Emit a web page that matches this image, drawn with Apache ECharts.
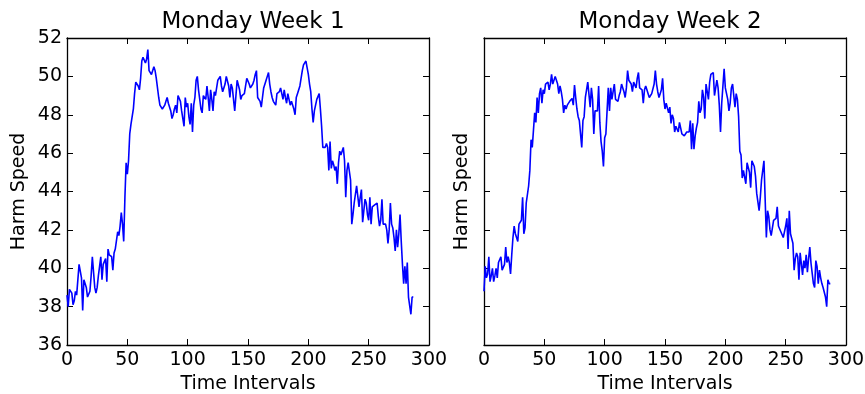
<!DOCTYPE html>
<html>
<head>
<meta charset="utf-8">
<script src="https://cdn.jsdelivr.net/npm/echarts@6/dist/echarts.min.js"></script>
<style>
html,body{margin:0;padding:0;background:#fff;}
#chart{width:865px;height:394px;}
</style>
</head>
<body>
<div id="chart"></div>
<script>
var titles = ["Monday Week 1", "Monday Week 2"];
var xAxisName = "Time Intervals";
var yAxisName = "Harm Speed";
var xTicks = [0, 50, 100, 150, 200, 250, 300];
var yTicks = [36, 38, 40, 42, 44, 46, 48, 50, 52];

var week1 = [
38.6,38.0,38.9,39.0,38.7,38.1,38.3,38.8,38.6,38.7,
40.2,40.1,39.5,37.8,39.4,39.5,39.0,38.5,38.6,38.8,
39.6,40.6,39.8,39.0,38.7,39.0,39.6,40.1,40.6,39.4,
40.2,40.3,40.5,39.3,41.0,40.7,40.8,40.6,39.9,40.8,
41.0,41.0,41.9,41.7,42.2,42.9,42.3,41.4,43.7,45.5,
44.9,45.6,47.0,47.5,47.5,48.3,49.1,49.7,49.6,49.5,
49.3,49.9,50.8,51.0,51.1,50.7,50.9,51.4,50.3,50.2,
50.1,50.2,50.5,50.3,49.9,49.8,48.9,48.5,48.4,48.3,
48.3,48.5,48.7,48.9,48.6,48.6,48.2,47.8,48.0,48.3,
48.5,48.1,49.0,49.1,48.7,48.2,47.8,47.4,48.9,48.4,
48.6,47.9,47.5,48.6,47.1,48.5,48.9,49.8,50.0,49.3,
48.8,48.3,48.1,49.0,48.9,48.8,49.5,48.9,48.2,49.3,
48.8,48.2,49.2,49.0,49.1,49.8,49.9,50.0,49.5,49.2,
49.3,49.6,50.0,50.1,49.5,48.9,49.6,49.4,49.5,48.2,
49.0,49.8,49.7,49.3,48.8,49.0,48.9,49.1,49.5,49.9,
50.0,49.6,49.4,49.4,49.6,49.8,50.1,50.3,48.9,49.0,
48.7,48.4,48.9,49.4,49.5,49.8,50.0,50.2,49.6,49.2,
48.9,48.7,48.6,48.5,49.1,49.2,49.2,49.4,49.5,48.8,
49.3,48.9,48.6,49.1,48.8,48.5,48.7,48.6,48.3,48.0,
48.9,49.1,49.2,49.5,49.6,50.3,50.6,50.7,50.8,50.8,
50.1,49.6,49.2,48.3,47.6,48.2,48.3,48.8,48.9,49.1,
48.3,47.4,46.3,46.2,46.3,46.5,46.3,45.1,46.6,45.2,
45.6,45.4,45.1,45.3,44.4,45.5,46.1,45.9,45.8,46.3,
45.6,43.7,45.1,45.5,45.5,44.6,42.3,42.8,43.4,43.3,
44.3,44.2,43.2,43.7,44.1,42.4,43.0,43.6,43.4,42.8,
42.5,43.7,42.3,43.2,43.3,43.3,43.4,43.4,42.7,42.2,
42.5,43.6,42.3,42.4,42.3,42.0,41.3,42.0,43.4,42.3,
42.1,41.6,40.9,42.0,41.1,41.8,42.8,41.4,40.2,39.2,
40.1,39.2,40.3,38.5,38.5,37.6,38.5,38.5
];

var week2 = [
38.8,40.1,39.5,39.7,40.6,39.3,39.6,40.0,39.3,39.6,
40.0,39.5,40.3,40.4,40.6,39.9,39.9,40.2,41.1,40.3,
40.6,40.3,39.7,40.7,41.6,42.2,41.8,41.9,41.4,42.3,
42.3,42.5,43.7,41.8,42.1,43.4,43.5,44.3,45.1,46.7,
46.3,47.2,48.1,47.6,48.9,48.1,49.1,49.4,48.6,49.3,
49.1,49.6,49.7,49.7,49.3,49.6,50.1,49.6,49.6,50.0,
49.8,49.6,49.1,49.5,49.2,48.8,48.1,48.5,48.3,48.5,
48.6,48.7,48.8,48.85,48.5,49.55,48.9,48.3,47.9,47.7,
47.0,46.3,47.7,47.9,48.9,49.3,49.7,49.6,48.4,49.4,
48.8,47.0,48.2,48.1,48.2,49.5,47.6,46.6,46.1,45.3,
46.8,47.0,47.0,49.4,48.2,49.4,48.8,49.2,49.6,48.8,
48.9,48.7,49.0,49.2,49.6,49.4,49.2,48.9,49.4,50.3,
49.8,49.7,49.6,49.2,49.7,49.6,49.4,49.9,50.2,49.4,
49.4,49.3,48.6,49.3,49.5,49.3,49.1,48.9,49.0,49.1,
49.0,49.6,50.3,49.6,49.2,48.9,49.1,49.3,49.9,48.8,
48.3,48.6,48.5,48.1,48.4,47.55,48.0,47.8,47.1,47.4,
47.3,47.1,47.6,47.3,47.0,47.0,46.9,47.0,47.1,47.2,
47.1,47.7,46.2,47.55,46.2,46.9,47.3,47.6,48.7,48.1,
48.3,49.3,48.9,47.8,49.6,49.2,48.8,49.7,50.1,50.1,
50.2,49.0,49.1,49.8,49.4,48.5,47.1,48.6,48.5,50.4,
49.4,49.5,48.8,48.2,48.6,49.4,49.6,49.7,48.4,49.1,
48.8,47.9,46.1,45.9,44.7,45.1,45.0,44.4,45.5,45.5,
45.0,44.2,45.6,45.5,45.3,44.8,43.9,43.8,43.0,43.7,
44.6,45.1,45.6,43.6,41.6,43.0,42.7,42.0,41.7,41.8,
42.5,42.6,42.6,43.2,42.2,42.2,41.9,41.8,41.6,41.5,
42.2,42.6,41.0,43.0,41.8,41.9,41.3,39.9,40.5,40.8,
40.6,39.4,40.8,40.8,39.65,40.4,40.0,40.7,39.8,40.5,
41.1,40.26,40.2,39.2,39.0,40.4,40.1,39.2,39.9,39.5,
39.2,39.0,38.9,38.5,38.0,39.4,39.2,39.2
];

var FONT = 'DejaVu Sans';
var grids = [
  {left: 67, top: 38, width: 362, height: 307, outerBoundsMode: 'none', containLabel: false},
  {left: 484, top: 38, width: 362, height: 307, outerBoundsMode: 'none', containLabel: false}
];
var xMin = xTicks[0], xMax = xTicks[xTicks.length - 1], xInt = xTicks[1] - xTicks[0];
var yMin = yTicks[0], yMax = yTicks[yTicks.length - 1], yInt = yTicks[1] - yTicks[0];

function toPairs(arr){ return arr.map(function(v, i){ return [i, v]; }); }

var lineAxis = {show: true, onZero: false, lineStyle: {color: '#000', width: 1.3}};
var tickIn = {show: true, inside: true, length: 6, lineStyle: {color: '#000', width: 1}};

var xAxes = [], yAxes = [];
[0, 1].forEach(function(g){
  xAxes.push({
    type: 'value', gridIndex: g, min: xMin, max: xMax, interval: xInt, position: 'bottom',
    name: xAxisName, nameLocation: 'middle', nameGap: 29,
    nameTextStyle: {fontFamily: FONT, fontSize: 19, color: '#000'},
    axisLine: lineAxis, axisTick: tickIn, splitLine: {show: false},
    axisLabel: {show: true, margin: 6, fontFamily: FONT, fontSize: 19, color: '#000'}
  });
  xAxes.push({
    type: 'value', gridIndex: g, min: xMin, max: xMax, interval: xInt, position: 'top',
    axisLine: lineAxis, axisTick: tickIn, splitLine: {show: false}, axisLabel: {show: false}
  });
  yAxes.push({
    type: 'value', gridIndex: g, min: yMin, max: yMax, interval: yInt, position: 'left',
    name: yAxisName, nameLocation: 'middle', nameGap: g === 0 ? 38 : 12, nameRotate: 90,
    nameTextStyle: {fontFamily: FONT, fontSize: 19, color: '#000'},
    axisLine: lineAxis, axisTick: tickIn, splitLine: {show: false},
    axisLabel: {show: g === 0, margin: 5, fontFamily: FONT, fontSize: 19, color: '#000'}
  });
  yAxes.push({
    type: 'value', gridIndex: g, min: yMin, max: yMax, interval: yInt, position: 'right',
    axisLine: lineAxis, axisTick: tickIn, splitLine: {show: false}, axisLabel: {show: false}
  });
});

var chart = echarts.init(document.getElementById('chart'), null, {renderer: 'canvas'});
chart.setOption({
  animation: false,
  backgroundColor: '#fff',
  title: [
    {text: titles[0], left: 248, top: 6, textAlign: 'center',
     textStyle: {fontFamily: FONT, fontSize: 23, fontWeight: 'normal', color: '#000'}},
    {text: titles[1], left: 665, top: 6, textAlign: 'center',
     textStyle: {fontFamily: FONT, fontSize: 23, fontWeight: 'normal', color: '#000'}}
  ],
  grid: grids,
  xAxis: xAxes,
  yAxis: yAxes,
  series: [
    {type: 'line', xAxisIndex: 0, yAxisIndex: 0, data: toPairs(week1), showSymbol: false,
     lineStyle: {color: '#0000ff', width: 1.6}, itemStyle: {color: '#0000ff'}},
    {type: 'line', xAxisIndex: 2, yAxisIndex: 2, data: toPairs(week2), showSymbol: false,
     lineStyle: {color: '#0000ff', width: 1.6}, itemStyle: {color: '#0000ff'}}
  ]
});
</script>
</body>
</html>
